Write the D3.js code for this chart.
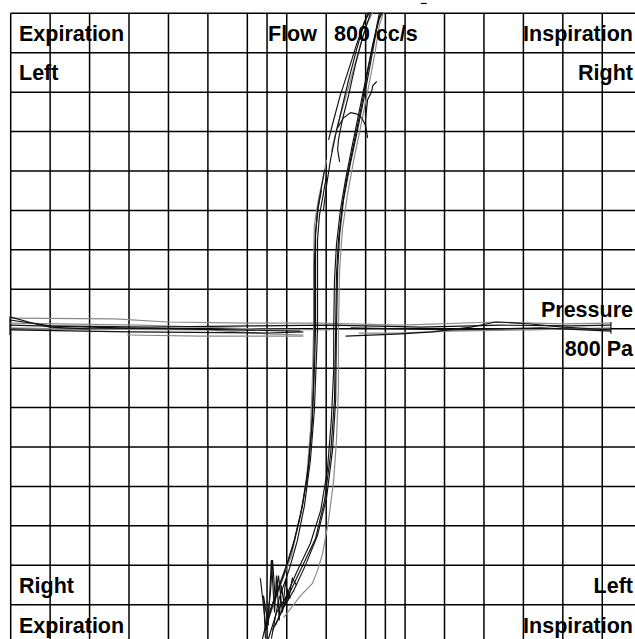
<!DOCTYPE html>
<html>
<head>
<meta charset="utf-8">
<script src="https://cdn.jsdelivr.net/npm/d3@7"></script>
<style>
  html, body { margin: 0; padding: 0; background: #fff; }
  svg { display: block; }
  .lbl { font-family: "Liberation Sans", Arial, Helvetica, sans-serif; font-weight: bold; font-size: 21.5px; fill: #000; }
</style>
</head>
<body>
<script>
// Rhinomanometry recording: pressure (Pa) on x, flow (cc/s) on y.
const pressureRange = [-800, 800];
const flowRange = [-800, 800];
const pressureGrid = [-800, -700, -600, -500, -400, -300, -200, -150, -100, 0, 100, 150, 200, 300, 400, 500, 600, 700];
const flowGrid = [-700, -600, -500, -400, -300, -200, -100, 0, 100, 200, 300, 400, 500, 600, 700, 800];

// Flow curves: [pressure Pa, flow cc/s]
const flowRight1 = [[-147,-788],[-126,-720],[-104,-684],[-75,-618],[-40,-544],[-14,-461],[3,-359],[13,-232],[19,-105],[19,-3],[21,124],[26,213],[36,301],[49,378],[64,454],[82,543],[100,632],[118,721],[133,784],[143,802]];
const flowRight2 = [[-136,-765],[-108,-707],[-83,-665],[-53,-601],[-22,-524],[1,-428],[16,-308],[24,-181],[26,-3],[29,149],[34,238],[44,327],[59,408],[77,492],[95,581],[113,677],[128,759],[138,802]];
const flowRight3 = [[-108,-733],[-65,-677],[-35,-646],[-22,-613],[-9,-570],[6,-486],[19,-384],[26,-283],[31,-156],[31,-3],[34,149],[41,251],[54,340],[69,424],[87,510],[105,601],[123,695],[135,771],[145,802]];
const flowRight4 = [[-129,-753],[-96,-677],[-60,-601],[-27,-532],[-4,-435],[11,-320],[21,-181],[24,-3],[26,136],[31,225],[41,314],[54,390],[72,479],[90,568],[107,662],[125,751],[135,802]];
const flowLeft1 = [[-162,-788],[-147,-727],[-129,-677],[-101,-601],[-81,-537],[-60,-448],[-45,-346],[-35,-232],[-30,-105],[-27,-3],[-27,149],[-27,238],[-22,301],[-14,347],[-4,403]];
const flowLeft2 = [[-152,-753],[-116,-651],[-88,-575],[-68,-486],[-50,-384],[-40,-257],[-35,-130],[-32,-3],[-32,175],[-30,263],[-20,327],[-9,378],[1,429]];
const flowLeft3 = [[-139,-786],[-121,-689],[-93,-608],[-73,-537],[-55,-448],[-40,-333],[-30,-207],[-25,-80],[-22,-3],[-22,124],[-22,225],[-17,289],[-9,332],[1,390]];
const flowLeft4 = [[-157,-771],[-136,-702],[-108,-626],[-86,-557],[-65,-473],[-47,-372],[-37,-257],[-32,-130],[-30,-3],[-30,162],[-27,246],[-20,309],[-12,352]];
const flowTop1 = [[6,479],[19,530],[36,593],[57,657],[77,721],[97,779],[110,802]];
const flowTop2 = [[13,449],[26,505],[44,568],[62,632],[82,703],[102,771],[118,802]];
const flowTop3 = [[34,423],[29,454],[31,479],[41,530],[57,593],[74,670],[92,738],[113,802]];
const flowTop4 = [[-7,301],[1,364],[11,429],[24,492],[39,556],[57,632],[77,708],[95,771],[107,802]];
const flowHump = [[29,510],[44,535],[62,548],[77,545],[90,535],[100,515],[105,484]];
const flowHook = [[100,535],[105,581],[115,601],[118,616],[128,627]];
const flowNoise1 = [[-154,-786],[-159,-677],[-147,-753],[-139,-587],[-131,-720],[-126,-626],[-119,-740],[-114,-651],[-106,-702],[-98,-664],[-91,-684]];
const flowNoise2 = [[-167,-633],[-152,-765],[-141,-664],[-136,-587],[-129,-689],[-121,-626],[-111,-720],[-103,-638],[-96,-689],[-86,-633],[-75,-651]];

// Pressure curves: [pressure Pa, flow cc/s]
const pressA = [[-802,22],[-700,7],[-446,4],[-192,7],[11,9],[240,4],[443,9],[620,7],[722,9]];
const pressB = [[-802,27],[-535,25],[-403,17],[-200,14],[-14,14],[189,9],[430,17],[597,12],[722,14]];
const pressC = [[-802,-3],[-497,-8],[-149,-11],[-58,-8]];
const pressD = [[-505,-16],[-319,-19],[-58,-19]];
const pressE = [[49,-19],[189,-13],[270,-8],[367,4],[430,17],[519,12],[600,4],[722,-3]];
const pressF = [[-802,2],[-624,-1],[-301,-3],[-149,-13],[-58,-16]];
const pressG = [[82,-11],[176,-11],[316,-6],[519,-3],[722,2]];
const pressH = [[-802,30],[-743,14],[-700,4],[-598,-1]];
const pressI = [[-802,9],[-522,2],[-243,-3],[-65,-6]];
const pressJ = [[62,2],[316,-3],[545,2],[722,-6]];
const pressK = [[-802,14],[-472,9],[-167,-1],[11,-3]];
const pressEndR = [[722,17],[722,-13]];
const pressEndL = [[-802,30],[-802,-16]];

const blackTraces = [flowRight1, flowRight2, flowRight4, flowLeft1, flowLeft3, flowLeft4, flowTop1, flowTop3, flowTop4, flowHump, flowHook, flowNoise1, flowNoise2, pressA, pressC, pressE, pressH, pressI, pressJ, pressEndR, pressEndL];
const greyTraces = [flowRight3, flowLeft2, flowTop2, pressB, pressD, pressF, pressG, pressK];

const W = 635, H = 639;
const x = d3.scaleLinear().domain(pressureRange).range([10.7, 641.7]);
const y = d3.scaleLinear().domain(flowRange).range([644.1, 13.3]);

const svg = d3.select("body").append("svg").attr("width", W).attr("height", H);
svg.append("rect").attr("width", W).attr("height", H).attr("fill", "#fff");

// grid
const grid = svg.append("g").attr("stroke", "#000").attr("stroke-width", 1.5);
grid.selectAll("line.v").data(pressureGrid).join("line")
  .attr("class", "v")
  .attr("x1", d => x(d)).attr("x2", d => x(d))
  .attr("y1", y(800)).attr("y2", H);
grid.selectAll("line.h").data(flowGrid).join("line")
  .attr("class", "h")
  .attr("x1", x(-800)).attr("x2", W)
  .attr("y1", d => y(d)).attr("y2", d => y(d));

// traces
const line = d3.line().x(d => x(d[0])).y(d => y(d[1])).curve(d3.curveLinear);
svg.append("g").selectAll("path").data(greyTraces).join("path")
  .attr("d", line).attr("fill", "none").attr("stroke", "#8a8a8a").attr("stroke-width", 1.2);
svg.append("g").selectAll("path").data(blackTraces).join("path")
  .attr("d", line).attr("fill", "none").attr("stroke", "#111").attr("stroke-width", 1.15);

// small mark above the frame
svg.append("line").attr("x1", x(240)).attr("x2", x(255)).attr("y1", y(825)).attr("y2", y(825))
  .attr("stroke", "#000").attr("stroke-width", 1.2);

// labels
const labels = [
  {t: "Expiration", x: 19, y: 41, a: "start"},
  {t: "Left", x: 19, y: 80, a: "start"},
  {t: "Flow", x: 268, y: 41, a: "start"},
  {t: "800 cc/s", x: 334, y: 41, a: "start"},
  {t: "Inspiration", x: 633, y: 41, a: "end"},
  {t: "Right", x: 633, y: 80, a: "end"},
  {t: "Pressure", x: 633, y: 317, a: "end"},
  {t: "800 Pa", x: 633, y: 356, a: "end"},
  {t: "Right", x: 19, y: 593, a: "start"},
  {t: "Expiration", x: 19, y: 633, a: "start"},
  {t: "Left", x: 633, y: 593, a: "end"},
  {t: "Inspiration", x: 633, y: 633, a: "end"}
];
svg.append("g").selectAll("text").data(labels).join("text")
  .attr("class", "lbl")
  .attr("x", d => d.x).attr("y", d => d.y)
  .attr("text-anchor", d => d.a)
  .text(d => d.t);
</script>
</body>
</html>
